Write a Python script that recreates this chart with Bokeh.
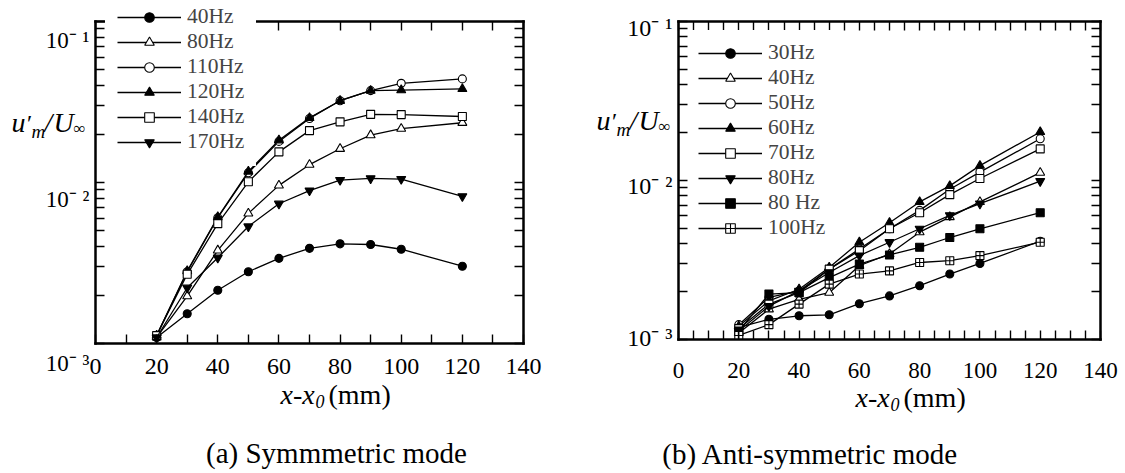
from bokeh.plotting import figure
from bokeh.models import Range1d, FixedTicker, LinearAxis, LogAxis, Legend, LegendItem
from bokeh.core.properties import value
from bokeh.layouts import row
from bokeh.embed import file_html
from bokeh.resources import INLINE
import math

FONT = "Liberation Serif"

# ---------------- data ----------------
# (a) Symmetric mode
sym_x = [20, 30, 40, 50, 60, 70, 80, 90, 100, 120]
sym_labels = ["40Hz", "80Hz", "110Hz", "120Hz", "140Hz", "170Hz"]
sym_40 = [1.09e-3, 1.53e-3, 2.14e-3, 2.79e-3, 3.38e-3, 3.90e-3, 4.16e-3, 4.12e-3, 3.85e-3, 3.02e-3]
sym_80 = [1.09e-3, 1.97e-3, 3.79e-3, 6.43e-3, 9.6e-3, 1.29e-2, 1.62e-2, 1.97e-2, 2.16e-2, 2.35e-2]
sym_110 = [1.12e-3, 2.79e-3, 6.04e-3, 1.15e-2, 1.80e-2, 2.50e-2, 3.22e-2, 3.72e-2, 4.13e-2, 4.40e-2]
sym_120 = [1.12e-3, 2.82e-3, 6.10e-3, 1.17e-2, 1.83e-2, 2.52e-2, 3.22e-2, 3.72e-2, 3.75e-2, 3.81e-2]
sym_140 = [1.12e-3, 2.69e-3, 5.55e-3, 1.01e-2, 1.55e-2, 2.10e-2, 2.38e-2, 2.65e-2, 2.64e-2, 2.57e-2]
sym_170 = [1.09e-3, 2.22e-3, 3.41e-3, 5.33e-3, 7.38e-3, 8.9e-3, 1.035e-2, 1.06e-2, 1.05e-2, 8.2e-3]
sym_series = [sym_40, sym_80, sym_110, sym_120, sym_140, sym_170]
sym_markers = ["circle", "triangle", "circle", "triangle", "square", "inverted_triangle"]
sym_filled = [True, False, False, True, False, True]

# (b) Anti-symmetric mode
anti_x = [20, 30, 40, 50, 60, 70, 80, 90, 100, 120]
anti_labels = ["30Hz", "40Hz", "50Hz", "60Hz", "70Hz", "80Hz", "80 Hz", "100Hz"]
anti_30 = [1.19e-3, 1.34e-3, 1.41e-3, 1.43e-3, 1.68e-3, 1.88e-3, 2.18e-3, 2.58e-3, 3.01e-3, 4.15e-3]
anti_40 = [1.10e-3, 1.55e-3, 1.79e-3, 1.97e-3, 2.91e-3, 3.45e-3, 4.73e-3, 5.89e-3, 7.33e-3, 1.12e-2]
anti_50 = [1.24e-3, 1.84e-3, 2.02e-3, 2.77e-3, 3.71e-3, 4.97e-3, 6.49e-3, 8.81e-3, 1.13e-2, 1.83e-2]
anti_60 = [1.21e-3, 1.75e-3, 2.07e-3, 2.84e-3, 4.09e-3, 5.42e-3, 7.33e-3, 9.25e-3, 1.24e-2, 2.02e-2]
anti_70 = [1.17e-3, 1.67e-3, 1.97e-3, 2.77e-3, 3.62e-3, 4.97e-3, 6.27e-3, 8.15e-3, 1.03e-2, 1.58e-2]
anti_80a = [1.13e-3, 1.62e-3, 2.02e-3, 2.64e-3, 3.37e-3, 4.09e-3, 4.97e-3, 6.04e-3, 7.15e-3, 9.90e-3]
anti_80b = [1.13e-3, 1.93e-3, 1.97e-3, 2.45e-3, 2.98e-3, 3.40e-3, 3.80e-3, 4.38e-3, 4.97e-3, 6.27e-3]
anti_100 = [1.06e-3, 1.24e-3, 1.67e-3, 2.23e-3, 2.58e-3, 2.70e-3, 3.05e-3, 3.13e-3, 3.37e-3, 4.09e-3]
anti_series = [anti_30, anti_40, anti_50, anti_60, anti_70, anti_80a, anti_80b, anti_100]
anti_markers = ["circle", "triangle", "circle", "triangle", "square", "inverted_triangle", "square", "square_cross"]
anti_filled = [True, False, False, True, False, True, True, False]

# axes
x_ticks = [0, 20, 40, 60, 80, 100, 120, 140]
x_tick_labels = ["0", "20", "40", "60", "80", "100", "120", "140"]
sym_x_minor = [10, 30, 50, 70, 90, 110, 130]
anti_x_minor = [v for v in range(5, 140, 5) if v % 20 != 0]
y_ticks = [1e-3, 1e-2, 1e-1]
y_tick_labels = ["10\u207b \u00b3", "10\u207b \u00b2", "10\u207b \u00b9"]
y_minor = [m * d for d in (1e-3, 1e-2) for m in range(2, 10)]
captions = ["(a) Symmmetric mode", "(b) Anti-symmetric mode"]

H = 473
B = 4  # fixed border around each canvas


def style_axis(ax, tick_len):
    ax.axis_line_width = 2.5
    ax.axis_line_color = "black"
    ax.axis_line_cap = "square"
    ax.major_tick_in = tick_len
    ax.major_tick_out = 0
    ax.minor_tick_in = tick_len
    ax.minor_tick_out = 0
    ax.major_tick_line_width = 1.4
    ax.minor_tick_line_width = 1.4
    ax.major_tick_line_color = "black"
    ax.minor_tick_line_color = "black"
    ax.major_label_text_font_size = "1px"
    ax.major_label_text_alpha = 0
    ax.major_label_standoff = 0


class Panel:
    """One panel; (fl, fr, ft, fb) is the data frame in page pixels."""

    def __init__(self, width, x0, fl, fr, ft, fb, xs, series, labels, markers, filled, x_minor,
                 legend_left, legend_bottom, legend_pad):
        self.x0 = x0
        self.fl, self.ft = fl, ft
        self.ppu = (fr - fl) / 140.0
        self.dec = (fb - ft) / 2.0
        xr = Range1d(self.xd(x0 + B), self.xd(x0 + width - B))
        yr = Range1d(self.yd(H - B), self.yd(B))
        p = figure(width=width, height=H, x_range=xr, y_range=yr, y_axis_type="log",
                   output_backend="svg", toolbar_location=None,
                   min_border_left=B, min_border_right=B, min_border_top=B, min_border_bottom=B)
        p.grid.visible = False
        p.outline_line_alpha = 0
        p.background_fill_color = "white"
        p.border_fill_color = "white"

        xt = FixedTicker(ticks=x_ticks, minor_ticks=x_minor)
        yt = FixedTicker(ticks=y_ticks, minor_ticks=y_minor)
        bottom = p.below[0]
        left = p.left[0]
        bottom.ticker = xt
        left.ticker = yt
        top = LinearAxis(ticker=xt)
        right = LogAxis(ticker=yt)
        p.add_layout(top, "above")
        p.add_layout(right, "right")
        bottom.fixed_location = y_ticks[0]
        top.fixed_location = y_ticks[-1]
        left.fixed_location = x_ticks[0]
        right.fixed_location = x_ticks[-1]
        for ax in (bottom, top):
            ax.bounds = (x_ticks[0], x_ticks[-1])
        for ax in (left, right):
            ax.bounds = (y_ticks[0], y_ticks[-1])
        for ax in (bottom, top, left, right):
            style_axis(ax, 9)

        items = []
        for lbl, ys, mk, fl_ in zip(labels, series, markers, filled):
            r1 = p.line(xs, ys, line_color="black", line_width=1.3)
            sz = 9 if "triangle" in mk else 8
            r2 = p.scatter(xs, ys, marker=mk, size=sz, line_color="black", line_width=1.1,
                           fill_color="black" if fl_ else "white")
            items.append(LegendItem(label=lbl, renderers=[r1, r2]))
        leg = Legend(items=items, location=(legend_left - x0 - B, (H - B) - legend_bottom),
                     padding=legend_pad, margin=0, spacing=0,
                     glyph_width=64, glyph_height=24, label_height=24, label_standoff=6,
                     label_text_font=FONT, label_text_font_size="21.5px",
                     background_fill_color="white", background_fill_alpha=1.0, border_line_alpha=0)
        p.add_layout(leg)
        self.p = p

    # page pixel -> data
    def xd(self, px):
        return (px - self.fl) / self.ppu

    def yd(self, py):
        return 10 ** (-1 - (py - self.ft) / self.dec)

    # data -> page pixel
    def xp(self, x):
        return self.fl + x * self.ppu

    def yp(self, y):
        return self.ft + (-1 - math.log10(y)) * self.dec

    def txt(self, texts, pxs, pys, size, style="normal", align="left"):
        self.p.text(x=[self.xd(v) for v in pxs], y=[self.yd(v) for v in pys], text=texts,
                    text_font=value(FONT), text_font_size=value(f"{size}px"),
                    text_font_style=style, text_align=align, text_baseline="alphabetic",
                    text_color="black")

    def tick_labels(self, x_drop, x_size, y_right, y_shift, y_size):
        fb = self.yp(y_ticks[0])
        self.txt(x_tick_labels, [self.xp(v) for v in x_ticks], [fb + x_drop] * len(x_ticks),
                 x_size, "normal", "center")
        self.txt(y_tick_labels, [y_right] * len(y_ticks),
                 [self.yp(v) + s for v, s in zip(y_ticks, y_shift)], y_size, "normal", "right")

    def ylabel(self, X0, Y0):
        self.txt(["u"], [X0], [Y0], 28, "italic")
        self.txt(["\u2032"], [X0 + 14], [Y0], 24, "italic")
        self.txt(["m"], [X0 + 20], [Y0 + 9], 19, "italic")
        self.txt(["/"], [X0 + 33], [Y0], 28, "italic")
        self.txt(["U"], [X0 + 42], [Y0], 28, "italic")
        self.txt(["\u221e"], [X0 + 62], [Y0 + 6], 17)

    def xlabel(self, X0, Y0):
        self.txt(["x-x"], [X0], [Y0], 28, "italic")
        self.txt(["0"], [X0 + 35], [Y0 + 7], 18, "italic")
        self.txt(["(mm)"], [X0 + 48], [Y0], 28)


W1 = 568
W2 = 557
a = Panel(W1, 0, 95, 523, 21, 343, sym_x, sym_series, sym_labels, sym_markers, sym_filled,
          sym_x_minor, 105, 166, 12)
a.tick_labels(23, 24, 89, [20, 17, 19], 23)
a.ylabel(11, 122)
a.xlabel(280, 394)
a.txt([captions[0]], [336], [452], 29, "normal", "center")

b = Panel(W2, W1, 678, 1100, 21, 339, anti_x, anti_series, anti_labels, anti_markers, anti_filled,
          anti_x_minor, 688, 250, 10)
b.tick_labels(31, 23, 672, [-2, 5, 6], 24)
b.ylabel(596, 120)
b.xlabel(855, 397)
b.txt([captions[1]], [810], [453], 29, "normal", "center")

layout = row(a.p, b.p)
open("out.html", "w").write(file_html(layout, INLINE))
